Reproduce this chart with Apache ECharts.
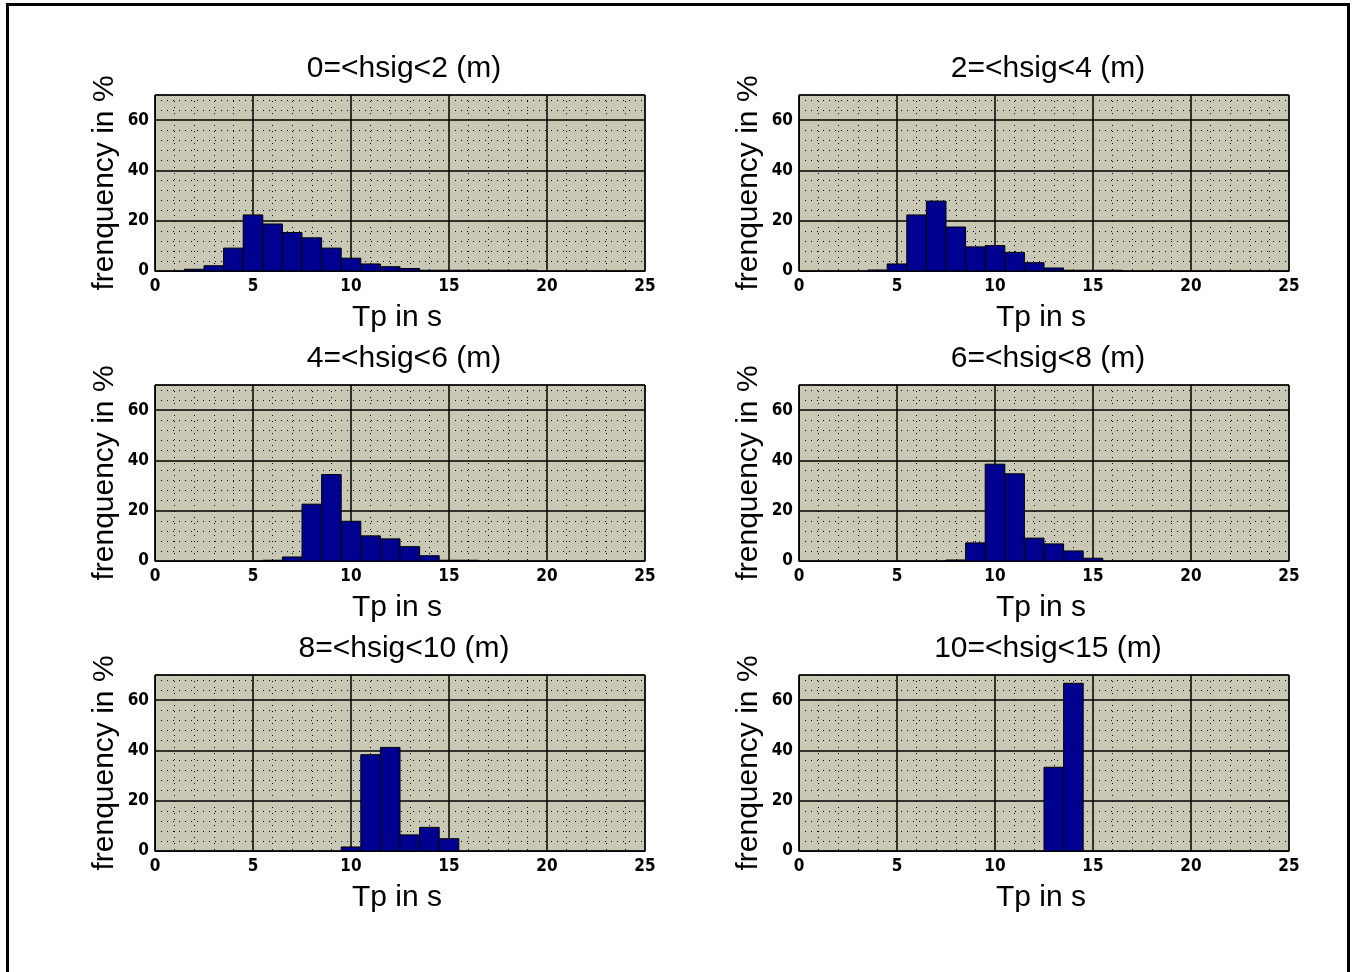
<!DOCTYPE html>
<html>
<head>
<meta charset="utf-8">
<script src="https://cdn.jsdelivr.net/npm/echarts@6/dist/echarts.min.js"></script>
<style>
html,body{margin:0;padding:0;background:#fff;}
#chart{width:1352px;height:972px;}
</style>
</head>
<body>
<div id="chart"></div>
<script>
// Panel titles
var titles = ['0=<hsig<2 (m)', '2=<hsig<4 (m)', '4=<hsig<6 (m)', '6=<hsig<8 (m)', '8=<hsig<10 (m)', '10=<hsig<15 (m)'];
// Axis labels
var xName = 'Tp in s';
var yName = 'frenquency in %';
// Tick values
var xTicks = [0, 5, 10, 15, 20, 25];
var yTicks = [0, 20, 40, 60];

// Histogram bins (Tp bin centres, s) and frequencies (%)
var tp1 = [2, 3, 4, 5, 6, 7, 8, 9, 10, 11, 12, 13, 14, 15, 16, 17, 18, 19];
var freq1 = [0.7, 2.1, 9.1, 22.3, 18.7, 15.3, 13.2, 9.1, 5.1, 2.8, 1.7, 1.0, 0.3, 0.3, 0.3, 0.3, 0.3, 0.3];

var tp2 = [4, 5, 6, 7, 8, 9, 10, 11, 12, 13, 14, 15, 16];
var freq2 = [0.4, 2.8, 22.3, 27.8, 17.5, 9.6, 10.1, 7.4, 3.3, 1.2, 0.3, 0.3, 0.3];

var tp3 = [6, 7, 8, 9, 10, 11, 12, 13, 14, 15, 16];
var freq3 = [0.3, 1.6, 22.6, 34.4, 15.8, 10.0, 8.8, 5.7, 2.1, 0.3, 0.3];

var tp4 = [8, 9, 10, 11, 12, 13, 14, 15];
var freq4 = [0.4, 7.2, 38.5, 34.7, 9.1, 6.8, 4.0, 1.1];

var tp5 = [10, 11, 12, 13, 14, 15];
var freq5 = [1.6, 38.3, 41.2, 6.4, 9.4, 4.9];

var tp6 = [13, 14];
var freq6 = [33.3, 66.7];

var tps = [tp1, tp2, tp3, tp4, tp5, tp6];
var freqs = [freq1, freq2, freq3, freq4, freq5, freq6];

var chart = echarts.init(document.getElementById('chart'));

var lefts = [155, 799];
var tops = [95, 385, 675];
var W = 490, H = 176;

var grids = [], xAxes = [], yAxes = [], series = [], titleArr = [];
var FONT = 'Liberation Sans, Arial, sans-serif';
var TICKFONT = '"Liberation Sans Narrow", "DejaVu Sans Condensed", Arial, sans-serif';

for (var i = 0; i < 6; i++) {
  var col = i % 2, row = Math.floor(i / 2);
  var L = lefts[col], T = tops[row];
  grids.push({
    left: L, top: T, width: W, height: H,
    show: true, backgroundColor: '#c8c8b4', borderColor: '#000', borderWidth: 1
  });
  titleArr.push({
    text: titles[i],
    left: L + W / 2 - 1, top: T - 46, textAlign: 'center',
    textStyle: {fontFamily: FONT, fontSize: 30, fontWeight: 'normal', color: '#000'}
  });
  xAxes.push({
    type: 'value', gridIndex: i, min: xTicks[0], max: xTicks[xTicks.length - 1], interval: 5,
    name: xName, nameLocation: 'middle', nameGap: 32,
    nameTextStyle: {fontFamily: FONT, fontSize: 30, color: '#000', padding: [0, 6, 0, 0]},
    axisLine: {show: true, lineStyle: {color: '#000', width: 1}},
    axisTick: {show: false},
    axisLabel: {show: true, margin: 7, color: '#000', fontFamily: TICKFONT, fontWeight: 'bold', fontSize: 17},
    splitLine: {show: true, lineStyle: {color: '#000', width: 1.5}},
    minorTick: {show: false, splitNumber: 5},
    minorSplitLine: {show: true, lineStyle: {color: '#000', width: 1, type: [1, 5]}}
  });
  yAxes.push({
    type: 'value', gridIndex: i, min: 0, max: 70, interval: 20,
    name: yName, nameLocation: 'middle', nameGap: 35, nameRotate: 90,
    nameTextStyle: {fontFamily: FONT, fontSize: 30, color: '#000'},
    axisLine: {show: true, lineStyle: {color: '#000', width: 1}},
    axisTick: {show: false},
    axisLabel: {show: true, margin: 6, color: '#000', fontFamily: TICKFONT, fontWeight: 'bold', fontSize: 17,
      showMaxLabel: false,
      formatter: function (v) { return yTicks.indexOf(v) >= 0 ? String(v) : ''; }},
    splitLine: {show: true, lineStyle: {color: '#000', width: 1.5}},
    minorTick: {show: false, splitNumber: 5},
    minorSplitLine: {show: true, lineStyle: {color: '#000', width: 1, type: [1, 5]}}
  });
  var data = tps[i].map(function (t, k) { return [t, freqs[i][k]]; });
  series.push({
    type: 'custom', xAxisIndex: i, yAxisIndex: i, data: data, clip: true,
    renderItem: function (params, api) {
      var x = api.value(0), y = api.value(1);
      var p0 = api.coord([x - 0.5, y]);
      var p1 = api.coord([x + 0.5, 0]);
      return {
        type: 'rect',
        shape: {x: p0[0], y: p0[1], width: p1[0] - p0[0], height: p1[1] - p0[1]},
        style: {fill: '#000090', stroke: '#000', lineWidth: 1}
      };
    }
  });
}

chart.setOption({
  animation: false,
  backgroundColor: '#fff',
  title: titleArr,
  grid: grids,
  xAxis: xAxes,
  yAxis: yAxes,
  series: series,
  graphic: [{
    type: 'rect', silent: true,
    shape: {x: 7.5, y: 4.5, width: 1341, height: 1000},
    style: {fill: 'none', stroke: '#000', lineWidth: 3}
  }]
});
</script>
</body>
</html>
